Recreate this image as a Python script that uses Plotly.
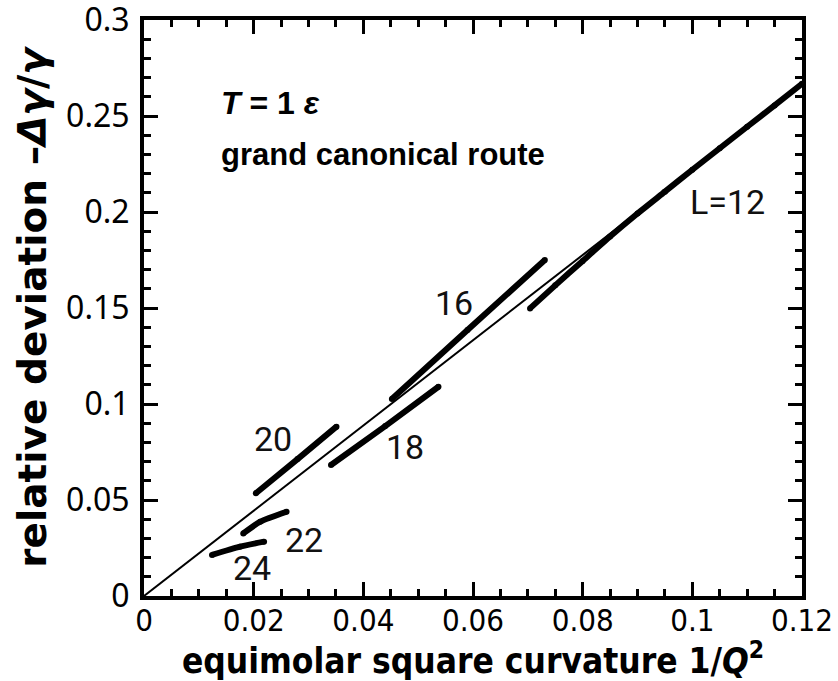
import plotly.graph_objects as go

# Axis ticks
x_ticks = [0, 0.02, 0.04, 0.06, 0.08, 0.1, 0.12]
x_ticktext = ["0", "0.02", "0.04", "0.06", "0.08", "0.1", "0.12"]
y_ticks = [0, 0.05, 0.1, 0.15, 0.2, 0.25, 0.3]
y_ticktext = ["0", "0.05", "0.1", "0.15", "0.2", "0.25", "0.3"]

# Thin reference line (linear fit through the origin)
fit_x = [0.0, 0.12]
fit_y = [0.0, 0.2664]

# Finite-size data, one branch per box length L
L12_x = [0.0704, 0.075, 0.080, 0.085, 0.090, 0.095, 0.100, 0.105, 0.110, 0.115, 0.120]
L12_y = [0.1498, 0.1618, 0.1745, 0.1872, 0.1992, 0.2106, 0.2220, 0.2332, 0.2444, 0.2555, 0.2668]
L16_x = [0.0452, 0.059, 0.0731]
L16_y = [0.1026, 0.1385, 0.1750]
L18_x = [0.0341, 0.044, 0.0537]
L18_y = [0.0682, 0.0885, 0.1090]
L20_x = [0.0204, 0.028, 0.0351]
L20_y = [0.0535, 0.0713, 0.0882]
L22_x = [0.0181, 0.0212, 0.0260]
L22_y = [0.0326, 0.0387, 0.0439]
L24_x = [0.0124, 0.0175, 0.0219]
L24_y = [0.0214, 0.0257, 0.0283]

# Branch labels
label_text = ["L=12", "16", "18", "20", "22", "24"]
label_x = [0.1065, 0.0565, 0.0476, 0.0235, 0.0292, 0.0197]
label_y = [0.205, 0.1526, 0.0776, 0.0818, 0.0292, 0.0146]

fig = go.Figure()

fig.add_trace(go.Scatter(x=fit_x, y=fit_y, mode="lines",
                         line=dict(color="black", width=2), showlegend=False))

for bx, by in [(L12_x, L12_y), (L16_x, L16_y), (L18_x, L18_y),
               (L20_x, L20_y), (L22_x, L22_y), (L24_x, L24_y)]:
    fig.add_trace(go.Scatter(x=bx, y=by, mode="lines+markers",
                             line=dict(color="black", width=6, shape="spline", smoothing=0.6),
                             marker=dict(color="black", size=6),
                             showlegend=False))

for t, lx, ly in zip(label_text, label_x, label_y):
    fig.add_annotation(x=lx, y=ly, text=t, showarrow=False,
                       font=dict(family="Roboto", size=34, color="#111"))

fig.add_annotation(x=0.0137, y=0.2568, xanchor="left", text="<b><i>T</i> = 1 <i>ε</i></b>",
                   showarrow=False, font=dict(family="Liberation Sans", size=32, color="black"))
fig.add_annotation(x=0.0137, y=0.2297, xanchor="left", text="<b>grand canonical route</b>",
                   showarrow=False, font=dict(family="Liberation Sans", size=31, color="black"))

fig.update_layout(
    width=838, height=681,
    margin=dict(l=144, r=36, t=20, b=85),
    plot_bgcolor="white", paper_bgcolor="white",
)

fig.update_xaxes(
    range=[0, 0.12], tickmode="array", tickvals=x_ticks, ticktext=x_ticktext,
    showgrid=False, zeroline=False, automargin=False,
    showline=True, linecolor="black", linewidth=4, mirror="ticks",
    ticks="inside", ticklen=14, tickwidth=2.5, tickcolor="black",
    minor=dict(dtick=0.005, tick0=0, ticks="inside", ticklen=7, tickwidth=2.5, tickcolor="black"),
    tickfont=dict(family="DejaVu Sans Condensed", size=31, color="black"),
    ticklabelstandoff=-6, ticklabeloverflow="allow",
    title=dict(text="<b>equimolar square curvature 1/<i>Q</i><sup>2</sup></b>",
               font=dict(family="DejaVu Sans Condensed", size=35, color="black"),
               standoff=4),
)
fig.update_yaxes(
    range=[0, 0.3], tickmode="array", tickvals=y_ticks, ticktext=y_ticktext,
    showgrid=False, zeroline=False, automargin=False,
    showline=True, linecolor="black", linewidth=4, mirror="ticks",
    ticks="inside", ticklen=14, tickwidth=2.5, tickcolor="black",
    minor=dict(dtick=0.01, tick0=0, ticks="inside", ticklen=7, tickwidth=2.5, tickcolor="black"),
    tickfont=dict(family="Noto Sans", size=32, color="black"),
    ticklabelstandoff=4, ticklabeloverflow="allow",
    title=dict(text="<b>relative deviation –<i>Δγ</i>/<i>γ</i></b>",
               font=dict(family="DejaVu Sans", size=39, color="black"),
               standoff=8),
)

fig.write_html("out.html")
